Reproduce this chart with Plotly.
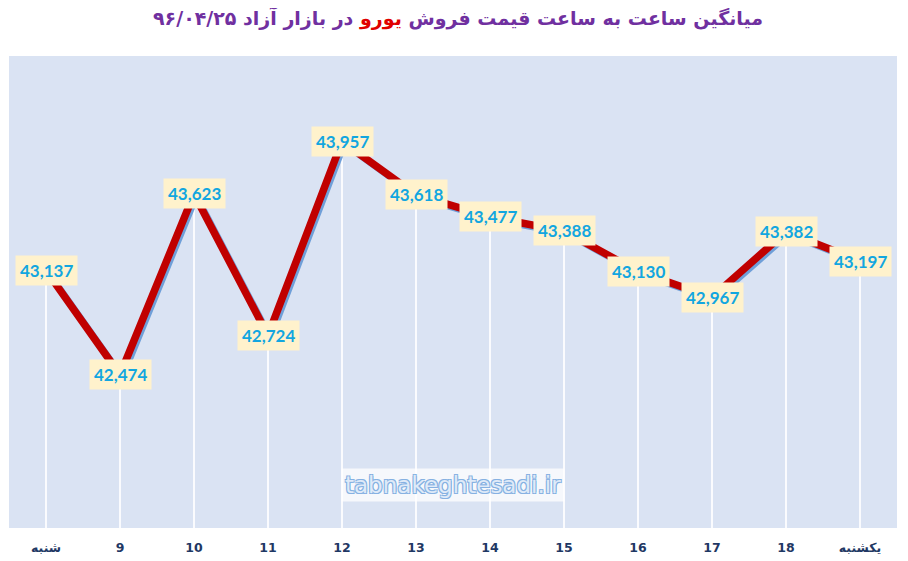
import plotly.graph_objects as go

hours = ["شنبه", "9", "10", "11", "12", "13", "14", "15", "16", "17", "18", "یکشنبه"]
prices = [43137, 42474, 43623, 42724, 43957, 43618, 43477, 43388, 43130, 42967, 43382, 43197]

y_min, y_max = 41500, 44500
pos = list(range(len(hours)))

fig = go.Figure()

# white drop lines from each point to the bottom
drop_x, drop_y = [], []
for i, p in zip(pos, prices):
    drop_x += [i, i, None]
    drop_y += [y_min, p, None]
fig.add_trace(go.Scatter(x=drop_x, y=drop_y, mode="lines",
                         line=dict(color="rgba(255,255,255,0.85)", width=2),
                         hoverinfo="skip", showlegend=False))

# soft blue shadow under the main line (slightly offset axes)
fig.add_trace(go.Scatter(x=pos, y=prices, mode="lines",
                         line=dict(color="#6f9fd8", width=7),
                         xaxis="x2", yaxis="y2", hoverinfo="skip", showlegend=False))

fig.add_trace(go.Scatter(x=pos, y=prices, mode="lines",
                         line=dict(color="#c00000", width=7.5),
                         xaxis="x3", yaxis="y3", showlegend=False))

for i, p in zip(pos, prices):
    fig.add_annotation(x=i, y=p, text=f"{p:,}", showarrow=False,
                       font=dict(family="Lato", size=17, color="#12a6e0", weight="bold"),
                       bgcolor="#fff2cc", borderpad=4)

outline = "1px 1px 0 #86b1e2, -1px -1px 0 #86b1e2, 1px -1px 0 #86b1e2, -1px 1px 0 #86b1e2"
fig.add_annotation(xref="paper", yref="paper", x=0.5, y=0.091, yanchor="middle",
                   text="tabnakeghtesadi.ir", showarrow=False,
                   font=dict(family="DejaVu Sans", size=23, color="#dfeaf8", shadow=outline),
                   bgcolor="rgba(255,255,255,0.75)", borderpad=3)

fig.update_layout(
    width=900, height=553,
    margin=dict(l=1, r=11, t=48, b=33, autoexpand=False),
    paper_bgcolor="white", plot_bgcolor="#dae3f3",
    title=dict(text="میانگین ساعت به ساعت قیمت فروش <span style='color:#e00000'>یورو</span> در بازار آزاد ۹۶/۰۴/۲۵",
               x=0.5, xanchor="center", y=0.982, yanchor="middle",
               font=dict(family="DejaVu Sans", size=19, color="#7030a0", weight="bold")),
    xaxis=dict(range=[-0.5, 11.5], tickmode="array", tickvals=pos, ticktext=hours,
               showgrid=False, zeroline=False, ticks="", ticklabelstandoff=10,
               tickfont=dict(family="DejaVu Sans", size=12.5, color="#1f3864", weight="bold")),
    yaxis=dict(range=[y_min, y_max], showgrid=False, zeroline=False, showticklabels=False),
    xaxis2=dict(overlaying="x", range=[-0.53, 11.47], visible=False),
    yaxis2=dict(overlaying="y", range=[y_min + 14, y_max + 14], visible=False),
    xaxis3=dict(overlaying="x", range=[-0.5, 11.5], visible=False),
    yaxis3=dict(overlaying="y", range=[y_min, y_max], visible=False),
)

fig.write_html("out.html")
